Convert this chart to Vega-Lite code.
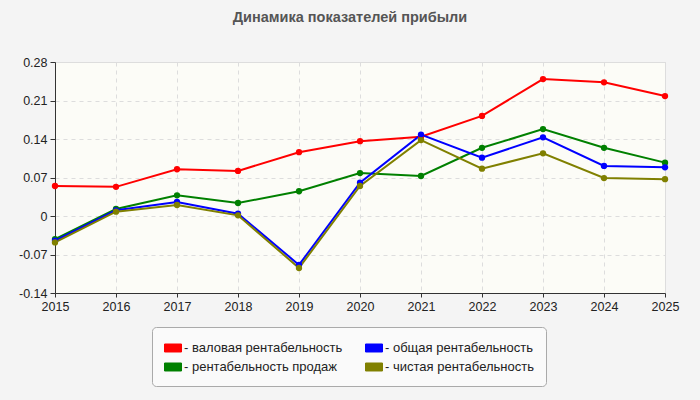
{
  "$schema": "https://vega.github.io/schema/vega-lite/v6.json",
  "width": 610,
  "height": 231,
  "autosize": {"type": "none"},
  "padding": {"left": 55, "top": 62, "right": 35, "bottom": 107},
  "background": "#f4f4f4",
  "title": {
    "text": "Динамика показателей прибыли",
    "font": "Liberation Sans",
    "fontSize": 14.5,
    "fontWeight": "bold",
    "color": "#555555",
    "anchor": "middle",
    "dx": -10,
    "offset": 31
  },
  "config": {
    "font": "Liberation Sans",
    "view": {"fill": "#fcfcf7", "stroke": "#dddddd"}
  },
  "data": {
    "values": [
      {"year": 2015, "s": "валовая рентабельность", "v": 0.0545},
      {"year": 2016, "s": "валовая рентабельность", "v": 0.053},
      {"year": 2017, "s": "валовая рентабельность", "v": 0.085},
      {"year": 2018, "s": "валовая рентабельность", "v": 0.082},
      {"year": 2019, "s": "валовая рентабельность", "v": 0.116},
      {"year": 2020, "s": "валовая рентабельность", "v": 0.136},
      {"year": 2021, "s": "валовая рентабельность", "v": 0.144},
      {"year": 2022, "s": "валовая рентабельность", "v": 0.182},
      {"year": 2023, "s": "валовая рентабельность", "v": 0.249},
      {"year": 2024, "s": "валовая рентабельность", "v": 0.243},
      {"year": 2025, "s": "валовая рентабельность", "v": 0.218},
      {"year": 2015, "s": "рентабельность продаж", "v": -0.042},
      {"year": 2016, "s": "рентабельность продаж", "v": 0.0127},
      {"year": 2017, "s": "рентабельность продаж", "v": 0.0376},
      {"year": 2018, "s": "рентабельность продаж", "v": 0.0236},
      {"year": 2019, "s": "рентабельность продаж", "v": 0.045},
      {"year": 2020, "s": "рентабельность продаж", "v": 0.078},
      {"year": 2021, "s": "рентабельность продаж", "v": 0.0727},
      {"year": 2022, "s": "рентабельность продаж", "v": 0.124},
      {"year": 2023, "s": "рентабельность продаж", "v": 0.158},
      {"year": 2024, "s": "рентабельность продаж", "v": 0.124},
      {"year": 2025, "s": "рентабельность продаж", "v": 0.097},
      {"year": 2015, "s": "общая рентабельность", "v": -0.045},
      {"year": 2016, "s": "общая рентабельность", "v": 0.0103},
      {"year": 2017, "s": "общая рентабельность", "v": 0.0255},
      {"year": 2018, "s": "общая рентабельность", "v": 0.0042},
      {"year": 2019, "s": "общая рентабельность", "v": -0.089},
      {"year": 2020, "s": "общая рентабельность", "v": 0.0606},
      {"year": 2021, "s": "общая рентабельность", "v": 0.148},
      {"year": 2022, "s": "общая рентабельность", "v": 0.106},
      {"year": 2023, "s": "общая рентабельность", "v": 0.143},
      {"year": 2024, "s": "общая рентабельность", "v": 0.091},
      {"year": 2025, "s": "общая рентабельность", "v": 0.0885},
      {"year": 2015, "s": "чистая рентабельность", "v": -0.048},
      {"year": 2016, "s": "чистая рентабельность", "v": 0.0079},
      {"year": 2017, "s": "чистая рентабельность", "v": 0.020},
      {"year": 2018, "s": "чистая рентабельность", "v": 0.0012},
      {"year": 2019, "s": "чистая рентабельность", "v": -0.0945},
      {"year": 2020, "s": "чистая рентабельность", "v": 0.0545},
      {"year": 2021, "s": "чистая рентабельность", "v": 0.138},
      {"year": 2022, "s": "чистая рентабельность", "v": 0.086},
      {"year": 2023, "s": "чистая рентабельность", "v": 0.114},
      {"year": 2024, "s": "чистая рентабельность", "v": 0.069},
      {"year": 2025, "s": "чистая рентабельность", "v": 0.067}
    ]
  },
  "encoding": {
    "x": {
      "field": "year",
      "type": "quantitative",
      "scale": {"domain": [2015, 2025], "nice": false, "zero": false},
      "axis": {
        "title": null,
        "values": [2015, 2016, 2017, 2018, 2019, 2020, 2021, 2022, 2023, 2024, 2025],
        "format": "d",
        "labelFontSize": 12.5,
        "labelColor": "#222222",
        "labelPadding": 3,
        "labelFlush": false,
        "domainColor": "#333333",
        "tickColor": "#333333",
        "tickSize": 4,
        "gridColor": "#dddddd",
        "gridDash": [4, 4]
      }
    },
    "y": {
      "field": "v",
      "type": "quantitative",
      "scale": {"domain": [-0.14, 0.28], "nice": false},
      "axis": {
        "title": null,
        "values": [-0.14, -0.07, 0, 0.07, 0.14, 0.21, 0.28],
        "labelExpr": "datum.value == 0 ? '0' : (datum.value < 0 ? '-' + format(-datum.value, '.2f') : format(datum.value, '.2f'))",
        "labelFontSize": 12.5,
        "labelColor": "#222222",
        "labelPadding": 3,
        "labelFlush": false,
        "domainColor": "#333333",
        "tickColor": "#333333",
        "tickSize": 5,
        "gridColor": "#dddddd",
        "gridDash": [4, 4]
      }
    },
    "color": {
      "field": "s",
      "type": "nominal",
      "scale": {
        "domain": ["валовая рентабельность", "рентабельность продаж", "общая рентабельность", "чистая рентабельность"],
        "range": ["#ff0000", "#008000", "#0000ff", "#808000"]
      },
      "legend": {
        "title": null,
        "orient": "none",
        "legendX": 97,
        "legendY": 265,
        "columns": 2,
        "columnPadding": 20,
        "rowPadding": 3,
        "padding": 12,
        "fillColor": "#fafafa",
        "strokeColor": "#aaaaaa",
        "cornerRadius": 4,
        "symbolType": "M-1,-0.47H1V0.47H-1Z",
        "symbolSize": 289,
        "symbolStrokeColor": "#888888",
        "symbolStrokeWidth": 1,
        "symbolOpacity": 1,
        "labelFontSize": 13,
        "labelColor": "#222222",
        "labelOffset": 2,
        "labelExpr": "'- ' + datum.label"
      }
    }
  },
  "layer": [
    {"mark": {"type": "line", "strokeWidth": 2}},
    {"mark": {"type": "circle", "size": 40, "opacity": 1}}
  ]
}
